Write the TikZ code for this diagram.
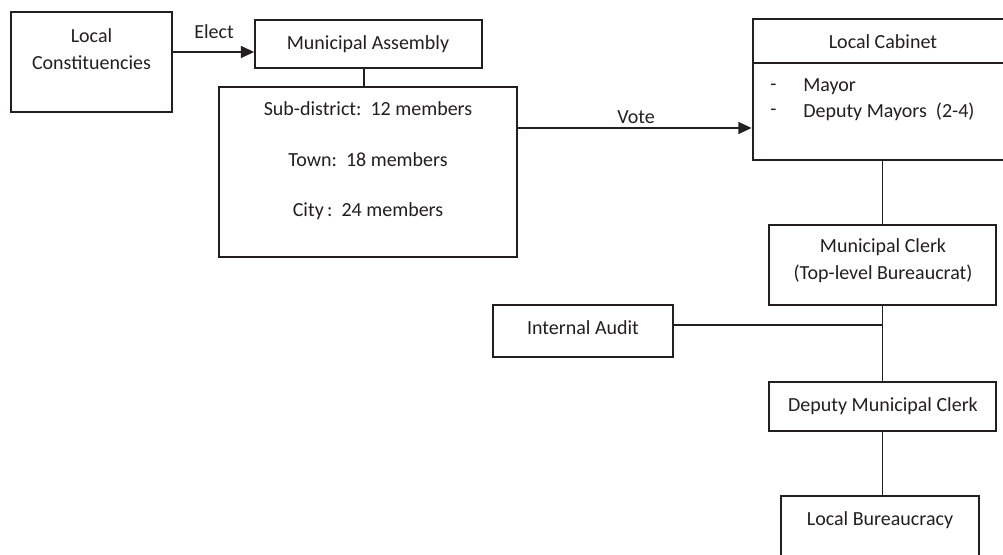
\documentclass[tikz,border=0pt]{standalone}
\usepackage{fontspec}
\setmainfont{Carlito}
\usetikzlibrary{arrows.meta,fit}
\definecolor{ink}{HTML}{231F20}
\begin{document}
\begin{tikzpicture}[x=0.75pt,y=-0.75pt,
  box/.style={draw=ink, line width=1.3pt, rectangle, inner sep=0pt},
  thickbox/.style={draw=ink, line width=2.1pt, rectangle, inner sep=0pt},
  txt/.style={font=\fontsize{15}{20.25}\selectfont, text=ink, inner sep=0pt, align=center},
  conn/.style={draw=ink, line width=1.3pt},
  arr/.style={conn, -{Triangle[length=10pt,width=9pt]}}]
\useasboundingbox (0,0) rectangle (1003,555);
\clip (0,0) rectangle (1003,555);
\fill[white] (0,0) rectangle (1003,555);
% boxes
\node[box, fit={(11,12) (172,112)}] (lc) {};
\node[box, fit={(255,20) (482,68)}] (ma) {};
\node[box, fit={(219,87) (517,257)}] (mem) {};
\node[thickbox, fit={(753,19) (1012,63)}] (cabh) {};
\node[thickbox, fit={(753,63) (1012,160)}] (cabb) {};
\node[box, fit={(769,225) (996,305)}] (clerk) {};
\node[box, fit={(493,305) (673,357)}] (audit) {};
\node[box, fit={(769,382) (996,431)}] (dep) {};
\node[box, fit={(781,496) (979,575)}] (bur) {};
% helper coordinates
\coordinate (ey) at (0,52);
\coordinate (vy) at (0,128);
\coordinate (j) at (883,325);
% connectors
\draw[arr] (lc.east |- ey) -- (ma.west |- ey);
\draw[conn] (364,68) coordinate (m1) -- (m1 |- mem.north);
\draw[arr] (mem.east |- vy) -- (cabb.west |- vy);
\draw[conn] (cabb.south) -- (clerk.north);
\draw[conn] (clerk.south) -- (dep.north);
\draw[conn] (audit.east |- j) -- (j);
\draw[conn] (dep.south) -- (dep.south |- bur.north);
% texts
\node[txt] (tlc) at (91.5,49) {Local\\Constituencies};
\node[txt] (telect) at (214,32) {Elect};
\node[txt] (tma) at (368,44) {Municipal Assembly};
\node[txt] (t1) at (368,109) {Sub-district:\ \ 12 members};
\node[txt] (t2) at (368,160) {Town:\ \ 18 members};
\node[txt] (t3) at (368,211) {City\,:\ \ 24 members};
\node[txt] (tvote) at (636,117) {Vote};
\node[txt] (tcab) at (883,42) {Local Cabinet};
\node[txt, anchor=west] (d1) at (770,87) {-};
\node[txt, anchor=west] (d2) at (770,112) {-};
\node[txt, anchor=west] (tmay) at (803,87) {Mayor};
\node[txt, anchor=west] (tdep) at (803,112) {Deputy Mayors\ \ (2-4)};
\node[txt] (tclerk) at (883,261) {Municipal Clerk\\(Top-level Bureaucrat)};
\node[txt] (taud) at (583,328) {Internal Audit};
\node[txt] (tdmc) at (883,406) {Deputy Municipal Clerk};
\node[txt] (tbur) at (880,520) {Local Bureaucracy};
\end{tikzpicture}
\end{document}
